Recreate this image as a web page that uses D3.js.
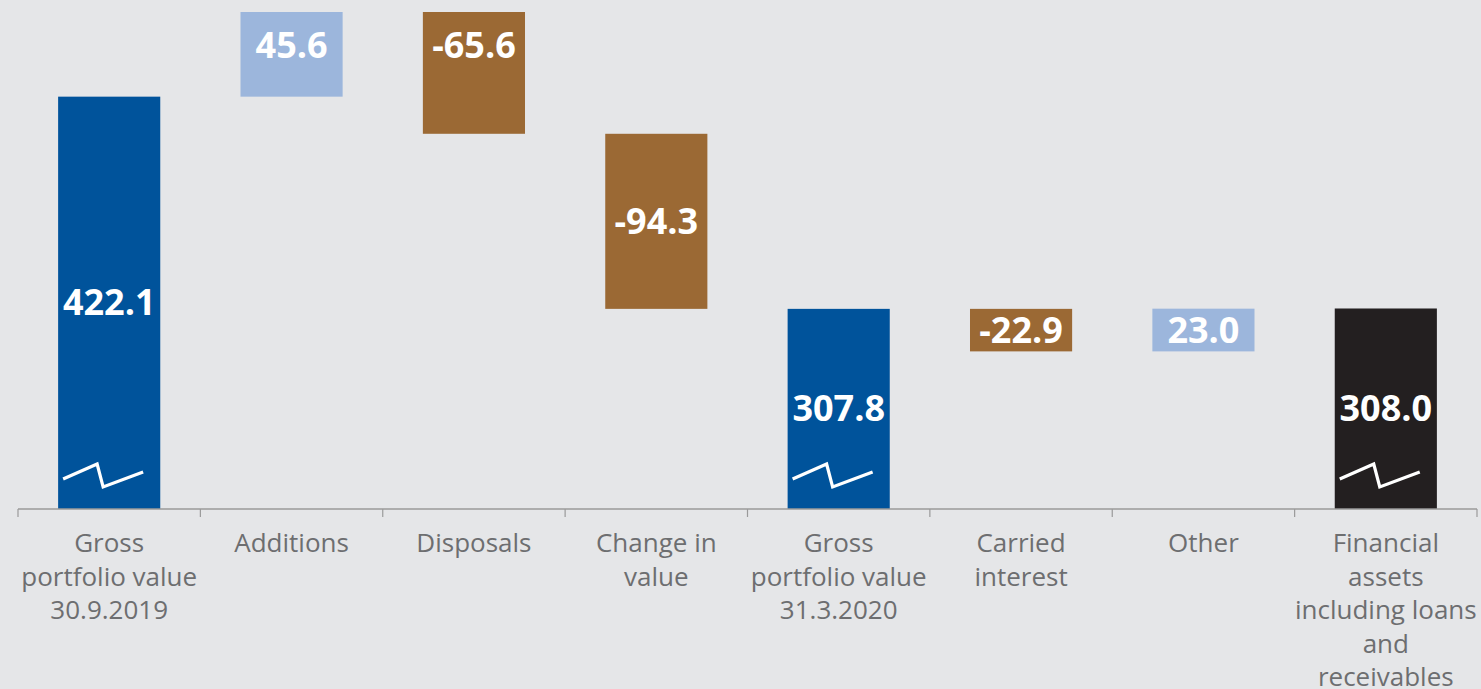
<!DOCTYPE html>
<html>
<head>
<meta charset="utf-8">
<script src="https://cdn.jsdelivr.net/npm/d3@7/dist/d3.min.js"></script>
<style>
  html, body { margin: 0; padding: 0; background: #e5e6e8; }
  svg { display: block; }
</style>
</head>
<body>
<svg id="chart" width="1481" height="689"></svg>
<script>
// Portfolio bridge, EUR m: opening value, movements, closing value
const categories = [
  "Gross\nportfolio value\n30.9.2019",
  "Additions",
  "Disposals",
  "Change in\nvalue",
  "Gross\nportfolio value\n31.3.2020",
  "Carried\ninterest",
  "Other",
  "Financial\nassets\nincluding loans\nand\nreceivables"
];
const values = [422.1, 45.6, -65.6, -94.3, 307.8, -22.9, 23.0, 308.0];
const kinds  = ["total", "change", "change", "change", "total", "change", "change", "final"];
const valueLabels = ["422.1", "45.6", "-65.6", "-94.3", "307.8", "-22.9", "23.0", "308.0"];
// Value where the broken axis is cut off
const axisFloor = 200;

const colors = {
  total: "#00539b",
  final: "#231f20",
  up: "#9cb6dc",
  down: "#9b6934"
};

// Build waterfall segments
let running = 0;
const rows = categories.map((c, i) => {
  let start, end;
  if (kinds[i] === "change") {
    start = running;
    end = running + values[i];
  } else {
    start = axisFloor;
    end = values[i];
  }
  running = kinds[i] === "change" ? end : values[i];
  return { cat: c, value: values[i], kind: kinds[i], label: valueLabels[i], start, end };
});

const svg = d3.select("#chart");
const plotLeft = 18, plotRight = 1477, baseline = 509, plotTop = 12;

const x = d3.scaleBand()
  .domain(categories)
  .range([plotLeft, plotRight])
  .paddingInner(0.44)
  .paddingOuter(0.22);

const yMax = d3.max(rows, r => Math.max(r.start, r.end));
const y = d3.scaleLinear().domain([axisFloor, yMax]).range([baseline, plotTop]);

const fill = r => r.kind === "total" ? colors.total
  : r.kind === "final" ? colors.final
  : (r.value >= 0 ? colors.up : colors.down);

const g = svg.append("g");

g.selectAll("rect.bar")
  .data(rows)
  .join("rect")
  .attr("class", "bar")
  .attr("x", r => x(r.cat))
  .attr("width", x.bandwidth())
  .attr("y", r => y(Math.max(r.start, r.end)))
  .attr("height", r => Math.abs(y(r.start) - y(r.end)))
  .attr("fill", fill);

// Axis-break zigzag on bars that start from the cut-off axis
const zig = d3.line();
g.selectAll("path.brk")
  .data(rows.filter(r => r.kind !== "change"))
  .join("path")
  .attr("class", "brk")
  .attr("d", r => {
    const x0 = x(r.cat);
    return zig([[x0 + 5, baseline - 30], [x0 + 39, baseline - 45], [x0 + 45, baseline - 22], [x0 + 85, baseline - 37]]);
  })
  .attr("fill", "none")
  .attr("stroke", "#ffffff")
  .attr("stroke-width", 3.2)
  .attr("stroke-linejoin", "miter");

// Value labels
g.selectAll("text.val")
  .data(rows)
  .join("text")
  .attr("class", "val")
  .attr("x", r => x(r.cat) + x.bandwidth() / 2)
  .attr("y", r => {
    const t = y(Math.max(r.start, r.end)), b = y(Math.min(r.start, r.end));
    return (t <= plotTop + 0.5 ? t + 33 : (t + b) / 2) + 12.5;
  })
  .attr("text-anchor", "middle")
  .attr("font-family", "'Open Sans', sans-serif")
  .attr("font-weight", 700)
  .attr("font-size", 36)
  .attr("fill", "#ffffff")
  .text(r => r.label);

// Category axis
const step = x.step();
svg.append("line")
  .attr("x1", plotLeft).attr("x2", plotRight)
  .attr("y1", baseline).attr("y2", baseline)
  .attr("stroke", "#9a9a9a").attr("stroke-width", 1.5);

svg.selectAll("line.tick")
  .data(d3.range(categories.length + 1))
  .join("line")
  .attr("class", "tick")
  .attr("x1", i => plotLeft + i * step).attr("x2", i => plotLeft + i * step)
  .attr("y1", baseline).attr("y2", baseline + 8)
  .attr("stroke", "#9a9a9a").attr("stroke-width", 1.2);

const labels = svg.selectAll("text.cat")
  .data(rows)
  .join("text")
  .attr("class", "cat")
  .attr("x", r => x(r.cat) + x.bandwidth() / 2)
  .attr("y", 552)
  .attr("text-anchor", "middle")
  .attr("font-family", "'Open Sans', sans-serif")
  .attr("font-size", 26)
  .attr("fill", "#6d6e70");

labels.selectAll("tspan")
  .data(r => r.cat.split("\n"))
  .join("tspan")
  .attr("x", function () { return d3.select(this.parentNode).attr("x"); })
  .attr("dy", (d, i) => i === 0 ? 0 : 33.6)
  .text(d => d);
</script>
</body>
</html>
